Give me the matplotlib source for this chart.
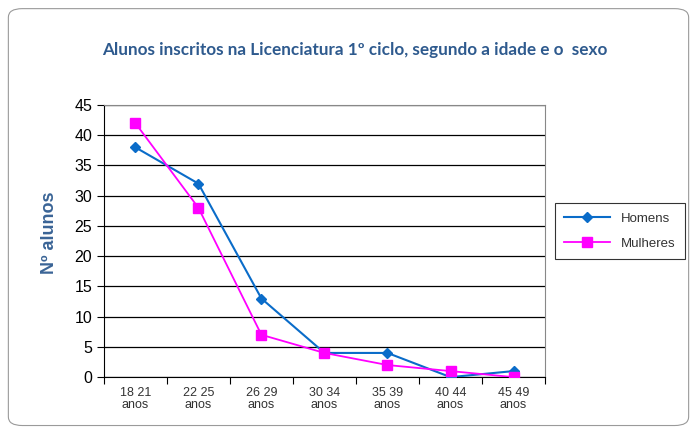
import numpy as np
import matplotlib.pyplot as plt
from matplotlib.patches import FancyBboxPatch

categorias = ["18 21\nanos", "22 25\nanos", "26 29\nanos", "30 34\nanos",
              "35 39\nanos", "40 44\nanos", "45 49\nanos"]
homens = [38, 32, 13, 4, 4, 0, 1]
mulheres = [42, 28, 7, 4, 2, 1, 0]

fig = plt.figure(figsize=(6.97, 4.32), dpi=100)
fig.patches.append(FancyBboxPatch((0.012, 0.015), 0.976, 0.965,
                                  boxstyle="round,pad=0,rounding_size=0.02",
                                  transform=fig.transFigure, fc="white",
                                  ec="#9a9a9a", lw=0.8, zorder=-5))

ax = fig.add_axes([0.149, 0.127, 0.633, 0.63])
ax.set_zorder(2)
x = np.arange(len(categorias))
ax.plot(x, homens, color="#0a6cc9", marker="D", ms=5, lw=1.5, label="Homens", zorder=3)
ax.plot(x, mulheres, color="#ff00ff", marker="s", ms=7, lw=1.3, label="Mulheres", zorder=3)

ax.set_xlim(-0.5, 6.5)
ax.set_ylim(0, 45)
ax.set_yticks(range(0, 46, 5))
ax.set_yticklabels([str(v) for v in range(0, 46, 5)], fontsize=11.5, family="Liberation Sans")
ax.set_xticks(np.arange(-0.5, 7, 1))
ax.set_xticklabels([])
ax.set_xticks(x, minor=True)
ax.set_xticklabels(categorias, minor=True, fontsize=9, family="Liberation Sans",
                   color="#333333", linespacing=1.0)
ax.tick_params(axis="x", which="minor", length=0, pad=7)
ax.tick_params(axis="x", which="major", length=5, direction="out")
ax.tick_params(axis="y", length=5, direction="out")
ax.grid(axis="y", color="black", lw=0.9)
for s in ["top", "right"]:
    ax.spines[s].set_color("#888888")
ax.spines["left"].set_color("black")
ax.spines["bottom"].set_color("black")

ax.set_ylabel("Nº alunos", fontsize=13, fontweight="bold", color="#3a6496",
              family="Liberation Sans")
ax.yaxis.set_label_coords(-0.105, 0.53)
fig.text(0.509, 0.885, "Alunos inscritos na Licenciatura 1º ciclo, segundo a idade e o  sexo",
         ha="center", va="center", fontsize=12.3, fontweight="bold", color="#2e5a8e", family="Lato")

leg = fig.legend(loc="upper left", bbox_to_anchor=(0.796, 0.53), borderaxespad=0,
                 fancybox=False, edgecolor="black",
                 prop={"family": "Liberation Sans", "size": 9.5},
                 handlelength=3.5, borderpad=0.7, labelspacing=1.0)
leg.get_frame().set_linewidth(0.8)
for t in leg.get_texts():
    t.set_color("#333333")

fig.savefig("out.png", dpi=100)
